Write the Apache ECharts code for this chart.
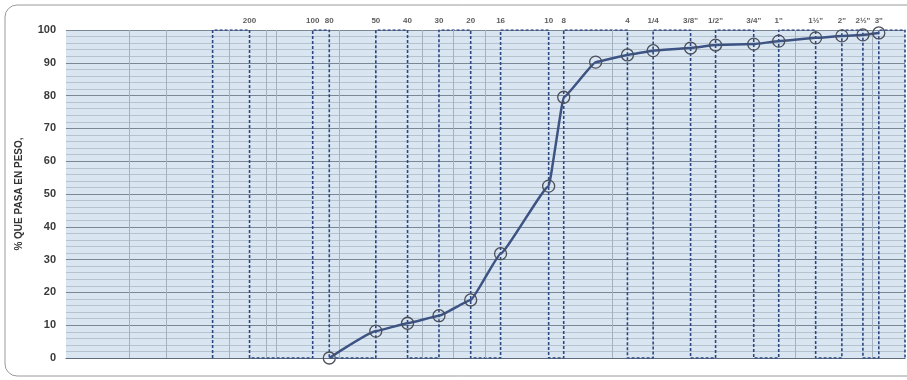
<!DOCTYPE html>
<html><head><meta charset="utf-8">
<script src="https://cdn.jsdelivr.net/npm/echarts@6/dist/echarts.min.js"></script>
<style>html,body{margin:0;padding:0;background:#fff;}#c{width:907px;height:380px;}</style>
</head><body><div id="c"></div>
<script>
// Sieve labels (top) and their openings in mm
var sieveLabels = ["200","100","80","50","40","30","20","16","10","8","4","1/4","3/8\"","1/2\"","3/4\"","1\"","1½\"","2\"","2½\"","3\""];
var sieveSizes  = [0.075,0.15,0.18,0.3,0.425,0.6,0.85,1.18,2.0,2.36,4.75,6.3,9.5,12.5,19,25,37.5,50,63,75];
// Dashed sieve boundaries (serpentine)
var boundarySizes = [0.05,0.075,0.15,0.18,0.3,0.425,0.6,0.85,1.18,2.0,2.36,4.75,6.3,9.5,12.5,19,25,37.5,50,63,75,100];
// Grading curve
var curveSizes   = [0.18,0.3,0.425,0.6,0.85,1.18,2.0,2.36,3.35,4.75,6.3,9.5,12.5,19,25,37.5,50,63,75];
var curvePassing = [0,8.2,10.6,12.9,17.7,31.8,52.4,79.5,90.2,92.4,93.7,94.5,95.4,95.7,96.6,97.6,98.2,98.5,99.1];
// Solid vertical paper grid lines (mm)
var paperGridX = [0.02,0.03,0.06,0.09,0.1,0.2,0.5,0.7,1,4,30,70];
var yAxisTitle = "% QUE PASA EN PESO,";

var serp = [];
for (var i = 0; i < boundarySizes.length; i++) {
  var s = boundarySizes[i];
  if (i % 2 === 0) { serp.push([s, 0]); serp.push([s, 100]); }
  else { serp.push([s, 100]); serp.push([s, 0]); }
}
var curve = curveSizes.map(function (s, i) { return [s, curvePassing[i]]; });
var labelPts = sieveSizes.map(function (s, i) { return { value: [s, 100], name: sieveLabels[i] }; });

var chart = echarts.init(document.getElementById('c'), null, { renderer: 'canvas' });
chart.setOption({
  backgroundColor: '#ffffff',
  animation: false,
  graphic: [{
    type: 'rect', silent: true, z: -10,
    shape: { x: 5, y: 5, width: 930, height: 371, r: 12 },
    style: { fill: 'none', stroke: '#9a9a9a', lineWidth: 1 }
  }],
  grid: { left: 66, right: 2, top: 30, bottom: 22, show: true, backgroundColor: '#d9e6f1', borderWidth: 0 },
  xAxis: {
    type: 'log', logBase: 10, min: 0.01, max: 100,
    axisLabel: { show: false }, axisTick: { show: false },
    axisLine: { show: true, lineStyle: { color: '#5d6b7c', width: 1.2 } },
    splitLine: { show: false }
  },
  yAxis: {
    type: 'value', min: 0, max: 100, interval: 10,
    name: yAxisTitle, nameLocation: 'middle', nameGap: 42, nameRotate: 90,
    nameTextStyle: { fontFamily: 'Liberation Sans', fontWeight: 'bold', fontSize: 10, color: '#333' },
    axisLabel: { fontFamily: 'Liberation Sans', fontWeight: 'bold', fontSize: 11, color: '#3a3a3a', margin: 10 },
    axisTick: { show: false }, axisLine: { show: false },
    splitLine: { show: true, lineStyle: { color: '#7a8896', width: 1 } },
    minorTick: { show: false, splitNumber: 5 },
    minorSplitLine: { show: true, lineStyle: { color: '#b5c3cf', width: 1 } }
  },
  series: [
    {
      type: 'line', data: [], silent: true,
      markLine: {
        silent: true, symbol: 'none', label: { show: false },
        lineStyle: { color: '#a3b0bd', type: 'solid', width: 1 },
        data: paperGridX.map(function (v) { return { xAxis: v }; })
      }
    },
    {
      type: 'line', data: serp, showSymbol: false, silent: true, z: 3,
      lineStyle: { color: '#2b4683', width: 1.6, type: [3, 2] }
    },
    {
      type: 'scatter', data: labelPts, symbolSize: 0, silent: true, z: 5,
      label: {
        show: true, position: 'top', distance: 5,
        formatter: function (p) { return p.name; },
        fontFamily: 'Liberation Sans', fontWeight: 'bold', fontSize: 8, color: '#333'
      }
    },
    {
      type: 'line', data: curve, smooth: 0.1, smoothMonotone: 'x', z: 6,
      symbol: 'circle', symbolSize: 12,
      lineStyle: { color: '#3d5384', width: 2.5 },
      itemStyle: { color: 'rgba(0,0,0,0)', borderColor: '#4a4f5a', borderWidth: 1.3 }
    }
  ]
});
</script></body></html>
